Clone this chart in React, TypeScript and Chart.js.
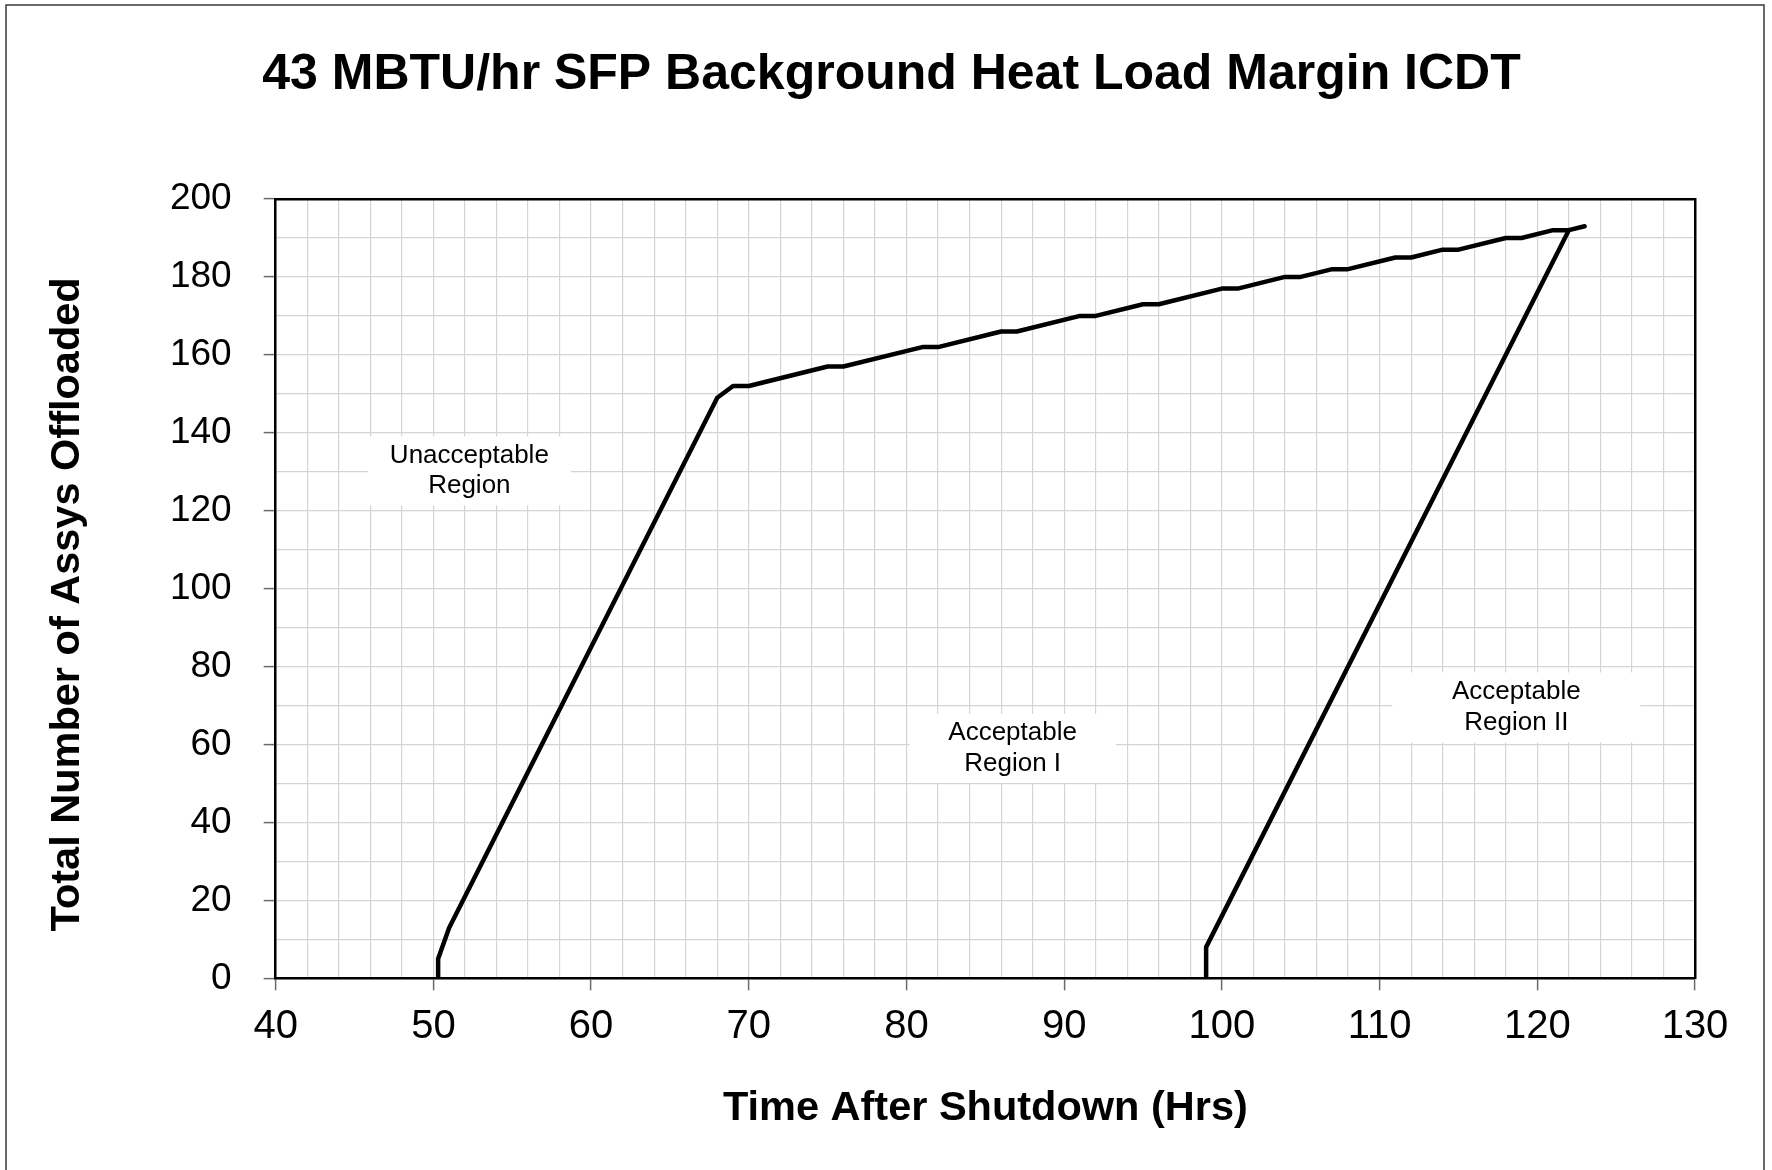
import { useEffect, useRef } from 'react';
import { Chart, registerables } from 'chart.js';

Chart.register(...registerables);

// ---- data ----
const boundaryAX = [50.3, 50.3, 51, 68, 69, 70, 75, 76, 81, 82, 86, 87, 91, 92, 95, 96, 100, 101, 104, 105, 107, 108, 111, 112, 114, 115, 118, 119, 121, 122, 123];
const boundaryAY = [0, 5, 13, 149, 152, 152, 157, 157, 162, 162, 166, 166, 170, 170, 173, 173, 177, 177, 180, 180, 182, 182, 185, 185, 187, 187, 190, 190, 192, 192, 193];
const boundaryBX = [99, 99, 122];
const boundaryBY = [0, 8, 192];

const xMin = 40;
const xMax = 130;
const xMinorStep = 2;
const xMajorStep = 10;
const yMin = 0;
const yMax = 200;
const yMinorStep = 10;
const yMajorStep = 20;

const titleText = '43 MBTU/hr SFP Background Heat Load Margin ICDT';
const xTitleText = 'Time After Shutdown (Hrs)';
const yTitleText = 'Total Number of Assys Offloaded';

const regionLabels = [['Unacceptable', 'Region'], ['Acceptable', 'Region I'], ['Acceptable', 'Region II']];
const regionX = [52.28, 86.73, 118.67];
const regionY = [130.2, 59.0, 69.5];
const regionBoxW = [203, 206, 248];
const regionBoxH = [69, 69, 70];

const FONT = "'Liberation Sans', Arial, Helvetica, sans-serif";

const isMultiple = (v: number, m: number) => Math.abs(v / m - Math.round(v / m)) < 1e-6;

const pagePlugin = {
  id: 'pageDecor',
  beforeDraw(chart: any) {
    const { ctx, width, height } = chart;
    ctx.save();
    ctx.fillStyle = '#ffffff';
    ctx.fillRect(0, 0, width, height);
    ctx.restore();
  },
  beforeDatasetsDraw(chart: any) {
    const { ctx } = chart;
    const xs = chart.scales.x;
    const ys = chart.scales.y;
    ctx.save();
    ctx.font = `26px ${FONT}`;
    ctx.textAlign = 'center';
    ctx.textBaseline = 'middle';
    for (let i = 0; i < regionLabels.length; i++) {
      const cx = xs.getPixelForValue(regionX[i]);
      const cy = ys.getPixelForValue(regionY[i]);
      const w = regionBoxW[i];
      const h = regionBoxH[i];
      ctx.fillStyle = '#ffffff';
      ctx.fillRect(cx - w / 2, cy - h / 2, w, h);
      ctx.fillStyle = '#000000';
      const lines = regionLabels[i];
      const lh = 30.5;
      lines.forEach((t, k) => {
        ctx.fillText(t, cx, cy + (k - (lines.length - 1) / 2) * lh);
      });
    }
    ctx.restore();
  },
  afterDraw(chart: any) {
    const { ctx } = chart;
    ctx.save();
    ctx.strokeStyle = '#3a3a3a';
    ctx.lineWidth = 1.5;
    ctx.beginPath();
    ctx.moveTo(6, 1175);
    ctx.lineTo(6, 5);
    ctx.lineTo(1764, 5);
    ctx.lineTo(1764, 1175);
    ctx.stroke();
    ctx.restore();
  },
};

export default function App() {
  const ref = useRef<HTMLCanvasElement | null>(null);

  useEffect(() => {
    if (!ref.current) return;
    const lineStyle = {
      borderColor: '#000000',
      borderWidth: 4.5,
      pointRadius: 0,
      pointHoverRadius: 0,
      fill: false,
      tension: 0,
      borderJoinStyle: 'round' as const,
      borderCapStyle: 'round' as const,
      xAxisID: 'x',
      yAxisID: 'y',
    };
    const chart = new Chart(ref.current, {
      type: 'line',
      data: {
        datasets: [
          {
            label: 'Boundary A',
            data: boundaryAX.map((x, i) => ({ x, y: boundaryAY[i] })),
            ...lineStyle,
          },
          {
            label: 'Boundary B',
            data: boundaryBX.map((x, i) => ({ x, y: boundaryBY[i] })),
            ...lineStyle,
          },
        ],
      },
      options: {
        responsive: false,
        animation: false,
        devicePixelRatio: 1,
        layout: { padding: { left: 11, right: 0, top: 0, bottom: 0 } },
        plugins: {
          legend: { display: false },
          tooltip: { enabled: false },
          title: {
            display: true,
            text: titleText,
            color: '#000000',
            font: { family: FONT, size: 50, weight: 'bold', lineHeight: 1.2 },
            padding: { top: 45.5, bottom: 17.5 },
          },
        },
        scales: {
          x: {
            type: 'linear',
            position: 'bottom',
            min: xMin,
            max: xMax,
            afterFit: (s: any) => {
              s.height = 191.7;
            },
            ticks: {
              stepSize: xMinorStep,
              autoSkip: false,
              maxRotation: 0,
              minRotation: 0,
              padding: 13,
              color: '#000000',
              font: { family: FONT, size: 40, lineHeight: 1.2 },
              callback: (v: any) => (isMultiple(Number(v), xMajorStep) ? String(v) : ''),
            },
            grid: {
              color: '#d4d4d4',
              lineWidth: 1.2,
              drawTicks: true,
              tickLength: 12,
              tickWidth: 1.5,
              tickColor: (c: any) => (c.tick && isMultiple(c.tick.value, xMajorStep) ? '#6a6a6a' : 'rgba(0,0,0,0)'),
            },
            border: { display: true, color: '#000000', width: 2.5 },
            title: {
              display: true,
              text: xTitleText,
              color: '#000000',
              font: { family: FONT, size: 41.5, weight: 'bold', lineHeight: 1.2 },
              padding: { top: 0, bottom: 36.5 },
            },
          },
          y: {
            type: 'linear',
            position: 'left',
            min: yMin,
            max: yMax,
            afterFit: (s: any) => {
              s.width = 264.7;
            },
            ticks: {
              stepSize: yMinorStep,
              autoSkip: false,
              padding: 32,
              color: '#000000',
              font: { family: FONT, size: 37, lineHeight: 1.2 },
              callback: (v: any) => (isMultiple(Number(v), yMajorStep) ? String(v) : ''),
            },
            grid: {
              color: '#d4d4d4',
              lineWidth: 1.2,
              drawTicks: true,
              tickLength: 12,
              tickWidth: 1.5,
              tickColor: (c: any) => (c.tick && isMultiple(c.tick.value, yMajorStep) ? '#6a6a6a' : 'rgba(0,0,0,0)'),
            },
            border: { display: true, color: '#000000', width: 2.5 },
            title: {
              display: true,
              text: yTitleText + '\u00a0\u00a0\u2009',
              color: '#000000',
              font: { family: FONT, size: 41.5, weight: 'bold', lineHeight: 1.2 },
              padding: { top: 32, bottom: 0 },
            },
          },
          xTop: {
            type: 'linear',
            position: 'top',
            min: xMin,
            max: xMax,
            afterFit: (s: any) => {
              s.height = 76;
            },
            ticks: { display: false },
            grid: { display: false, drawTicks: false },
            border: { display: true, color: '#000000', width: 2.5 },
          },
          yRight: {
            type: 'linear',
            position: 'right',
            min: yMin,
            max: yMax,
            afterFit: (s: any) => {
              s.width = 77;
            },
            ticks: { display: false },
            grid: { display: false, drawTicks: false },
            border: { display: true, color: '#000000', width: 2.5 },
          },
        },
      } as any,
      plugins: [pagePlugin],
    });
    return () => chart.destroy();
  }, []);

  return (
    <div style={{ position: 'fixed', left: 0, top: 0, width: 1772, height: 1170, background: '#ffffff' }}>
      <canvas ref={ref} width={1772} height={1170} style={{ display: 'block', width: 1772, height: 1170 }} />
    </div>
  );
}
